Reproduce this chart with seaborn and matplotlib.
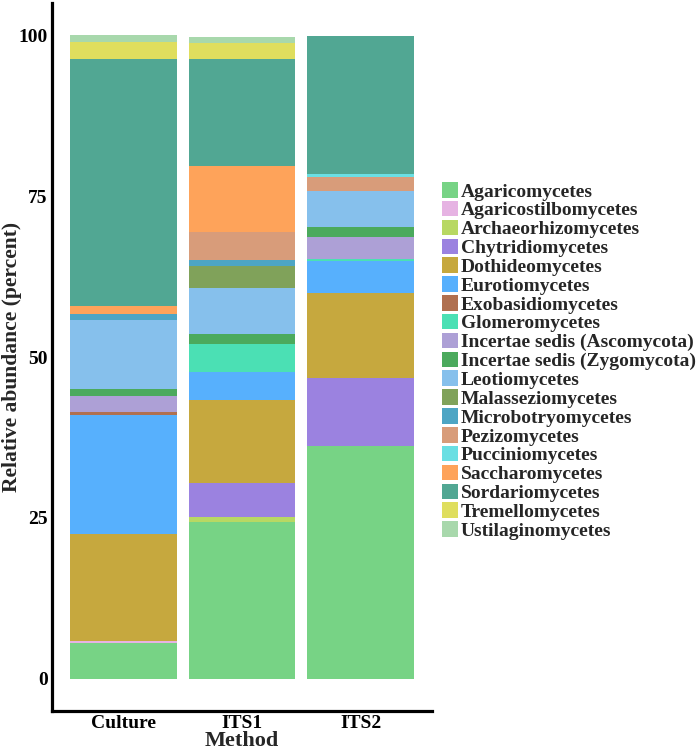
import numpy as np
import pandas as pd
import matplotlib
matplotlib.use("Agg")
import matplotlib.pyplot as plt
from matplotlib.patches import Patch
import seaborn as sns

methods = ["Culture", "ITS1", "ITS2"]
classes = ["Agaricomycetes", "Agaricostilbomycetes", "Archaeorhizomycetes",
           "Chytridiomycetes", "Dothideomycetes", "Eurotiomycetes",
           "Exobasidiomycetes", "Glomeromycetes", "Incertae sedis (Ascomycota)",
           "Incertae sedis (Zygomycota)", "Leotiomycetes", "Malasseziomycetes",
           "Microbotryomycetes", "Pezizomycetes", "Pucciniomycetes",
           "Saccharomycetes", "Sordariomycetes", "Tremellomycetes",
           "Ustilaginomycetes"]
culture = [5.5, 0.3, 0, 0, 16.7, 18.5, 0.5, 0, 2.5, 1.1, 10.7, 0, 0.9, 0, 0, 1.3, 38.3, 2.7, 1.0]
its1 = [24.3, 0, 0.9, 5.2, 12.9, 4.35, 0, 4.3, 0, 1.65, 7.05, 3.5, 0.85, 4.35, 0, 10.4, 16.5, 2.6, 0.8]
its2 = [36.2, 0, 0, 10.5, 13.2, 5.0, 0, 0.35, 3.4, 1.6, 5.55, 0, 0, 2.2, 0.5, 0, 21.3, 0, 0]
colors = ["#77D385", "#E6B3E3", "#B8D863", "#9B82E0", "#C6A83E", "#57B0FD",
          "#B07050", "#4BE0B4", "#ADA0D6", "#4BAA5D", "#86C0EC", "#80A25A",
          "#4DA5C4", "#D89C7A", "#6ADFE3", "#FEA35A", "#51A793", "#DFDE5E",
          "#A8D8AC"]
yticks = [0, 25, 50, 75, 100]

sns.set_style("white")
plt.rcParams["font.family"] = ["Liberation Serif", "DejaVu Serif"]
plt.rcParams["font.weight"] = "bold"

df = pd.DataFrame({"Class": classes * 3,
                   "Method": np.repeat(methods, len(classes)),
                   "Abundance": culture + its1 + its2})
df["Class"] = pd.Categorical(df["Class"], categories=classes, ordered=True)
df = df.sort_values(["Method", "Class"])
df["Top"] = df.groupby("Method")["Abundance"].cumsum()

fig = plt.figure(figsize=(6.99, 7.5), dpi=100)
ax = fig.add_axes([52 / 699, 1 - 711 / 750, (432 - 52) / 699, (711 - 3) / 750])

# draw cumulative tops from the top class down so lower segments overlay
for cls, col in reversed(list(zip(classes, colors))):
    sub = df[df["Class"] == cls]
    sns.barplot(data=sub, x="Method", y="Top", order=methods, color=col,
                saturation=1, width=0.9, ax=ax, linewidth=0, errorbar=None)

ax.set_xlim(-0.6, 2.6)
ax.set_ylim(-5, 105)
ax.set_yticks(yticks)
ax.set_yticklabels([str(t) for t in yticks])
ax.tick_params(axis="both", length=0, labelsize=14, pad=3)
for lab in ax.get_xticklabels() + ax.get_yticklabels():
    lab.set_fontweight("bold")
    lab.set_color("black")
ax.set_xlabel("Method", fontsize=16, fontweight="bold", labelpad=-1)
ax.set_ylabel("Relative abundance (percent)", fontsize=15.5, fontweight="bold")
ax.yaxis.set_label_coords(-0.079, 0.5)
for s in ["top", "right"]:
    ax.spines[s].set_visible(False)
for s in ["left", "bottom"]:
    ax.spines[s].set_linewidth(2.3)
    ax.spines[s].set_color("black")

handles = [Patch(facecolor=c, edgecolor="none", label=l) for l, c in zip(classes, colors)]
fig.legend(handles=handles, loc="upper left",
           bbox_to_anchor=(441.7 / 699, 1 - 182 / 750),
           frameon=False, prop={"weight": "bold", "size": 14},
           handlelength=0.86, handleheight=0.86, handletextpad=0.12,
           labelspacing=0.015, borderpad=0, borderaxespad=0)

fig.savefig("out.png", dpi=100)
